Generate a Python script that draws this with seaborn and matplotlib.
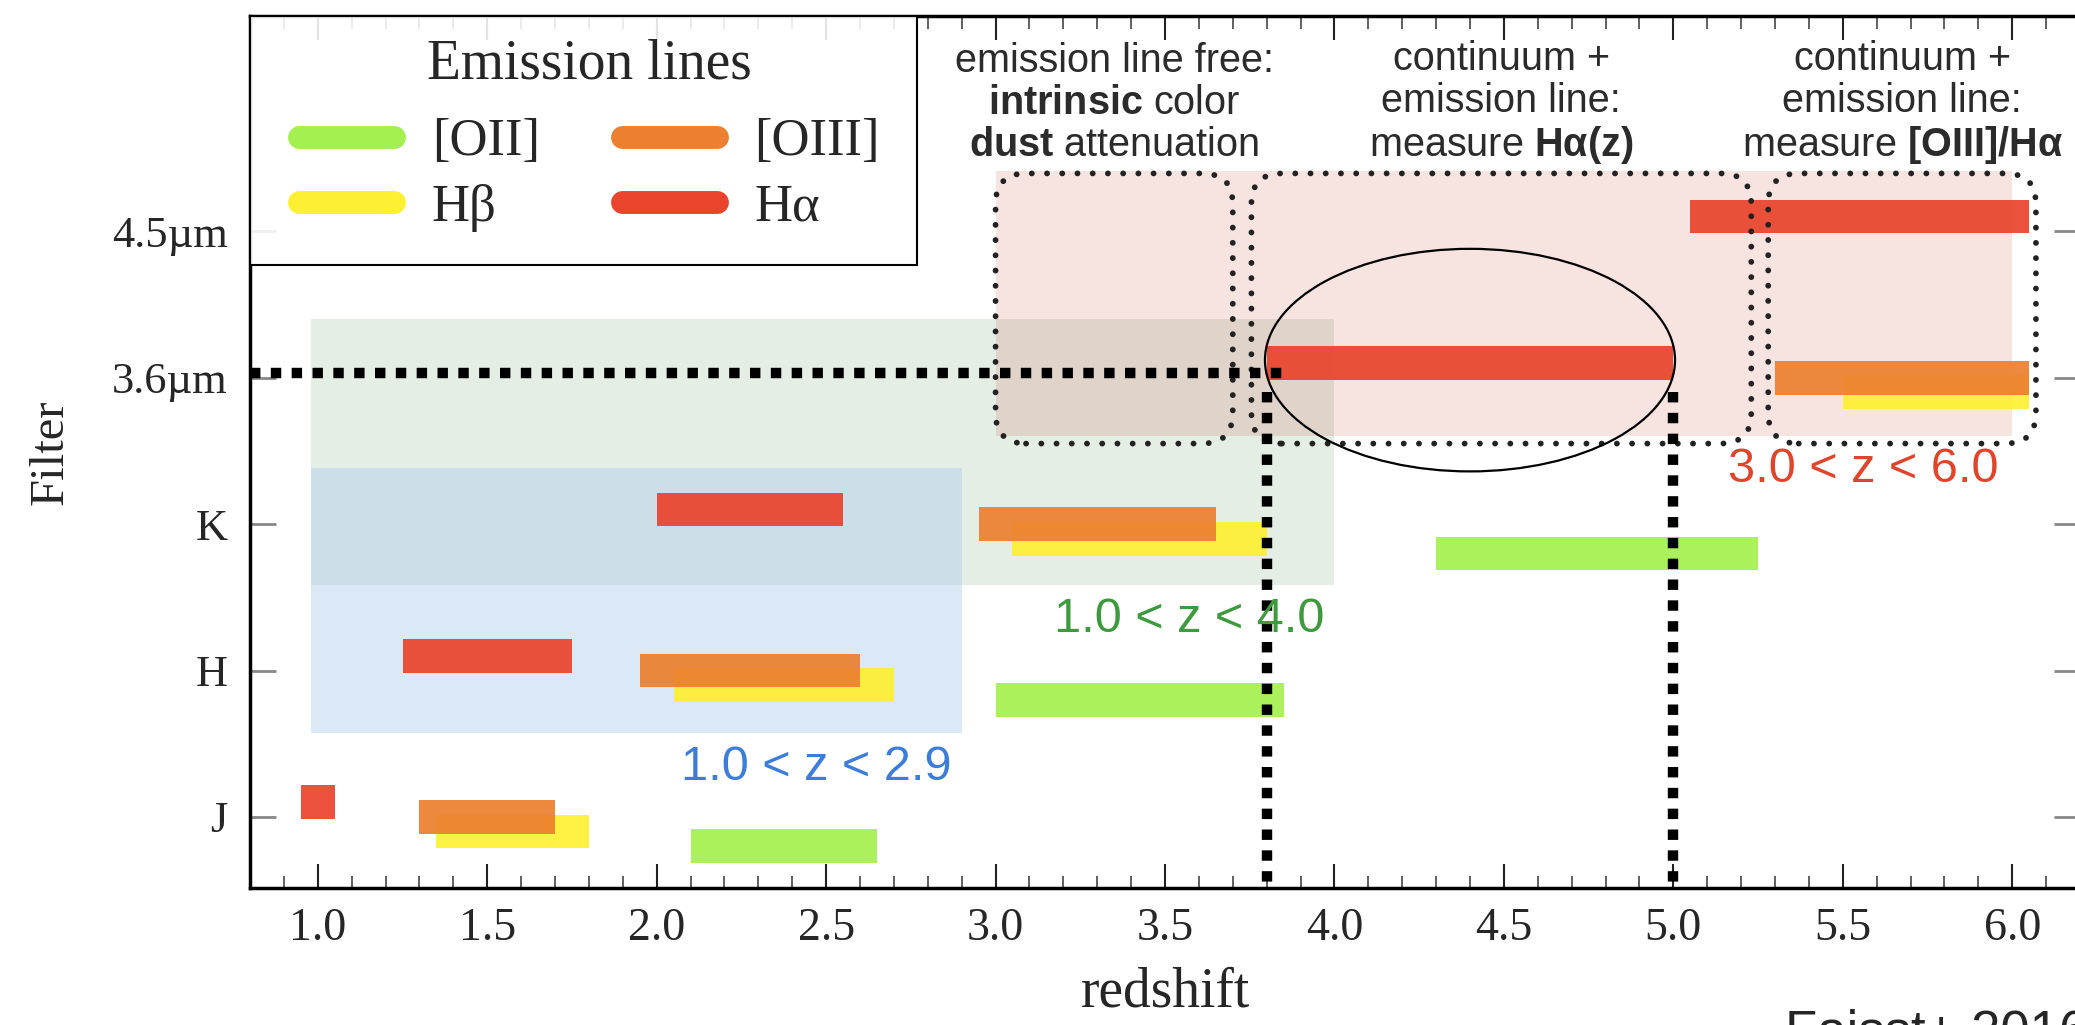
import numpy as np
import pandas as pd
import seaborn as sns
import matplotlib
matplotlib.use("Agg")
import matplotlib.pyplot as plt
from matplotlib.patches import Rectangle, FancyBboxPatch, Ellipse
from matplotlib.lines import Line2D
from matplotlib.ticker import MultipleLocator, NullLocator, FormatStrFormatter

# ---------------------------------------------------------------- data
# photometric filters, bottom to top
filters = ["J", "H", "K", "3.6µm", "4.5µm"]

# emission lines (drawing order) and their colours
line_names = ["[OII]", "Hβ", "[OIII]", "Hα"]
line_colors = ["#a4f050", "#fdf032", "#ec8030", "#ea442d"]

# redshift range in which each line falls into each filter (NaN: not covered)
oii_zmin = [2.10, 3.00, 4.30, np.nan, np.nan]
oii_zmax = [2.65, 3.85, 5.25, np.nan, np.nan]
hb_zmin = [1.35, 2.05, 3.05, 5.50, np.nan]
hb_zmax = [1.80, 2.70, 3.80, 6.05, np.nan]
oiii_zmin = [1.30, 1.95, 2.95, 5.30, np.nan]
oiii_zmax = [1.70, 2.60, 3.65, 6.05, np.nan]
ha_zmin = [0.95, 1.25, 2.00, 3.80, 5.05]
ha_zmax = [1.05, 1.75, 2.55, 5.00, 6.05]

# redshift selection windows
window_labels = ["1.0 < z < 4.0", "1.0 < z < 2.9", "3.0 < z < 6.0"]
window_zmin = [0.98, 0.98, 3.00]
window_zmax = [4.00, 2.90, 6.00]

# Spitzer colour regimes
regime_zmin = [3.00, 3.755, 5.28]
regime_zmax = [3.70, 5.23, 6.07]
regime_texts = [
    "emission line free:\n$\\bf{intrinsic}$ color\n$\\bf{dust}$ attenuation",
    "continuum +\nemission line:\nmeasure $\\bf{Hα(z)}$",
    "continuum +\nemission line:\nmeasure $\\bf{[OIII]/Hα}$",
]

# Hα in 3.6µm redshift interval
ha_irac_zmin, ha_irac_zmax = 3.8, 5.0

# ---------------------------------------------------------------- table
rows = []
for name, zlo, zhi in zip(line_names,
                          [oii_zmin, hb_zmin, oiii_zmin, ha_zmin],
                          [oii_zmax, hb_zmax, oiii_zmax, ha_zmax]):
    for i, f in enumerate(filters):
        rows.append({"line": name, "filter": f, "fidx": i,
                     "zmin": zlo[i], "zmax": zhi[i]})
df = pd.DataFrame(rows).dropna()

# ---------------------------------------------------------------- style
sns.set_theme(style="ticks")
plt.rcParams["font.family"] = ["Liberation Serif", "DejaVu Serif"]
plt.rcParams["mathtext.fontset"] = "custom"
plt.rcParams["mathtext.rm"] = "Liberation Sans"
plt.rcParams["mathtext.bf"] = "Liberation Sans:bold"

W, H = 2075, 1025
fig = plt.figure(figsize=(W / 100, H / 100), dpi=100)
ax = fig.add_axes([250 / W, 1 - 888 / H, (2080 - 250) / W, (888 - 16) / H])
ax.set_xlim(0.8, 6.2)
ax.set_ylim(-0.485, 5.47)

# shaded selection windows (green, blue, red)
win_colors = [((82 / 255, 142 / 255, 82 / 255), 0.15),
              ((170 / 255, 204 / 255, 238 / 255), 0.42),
              ((202 / 255, 68 / 255, 48 / 255), 0.15)]
win_y = [(1.586, 3.40), (0.572, 2.386), (2.60, 4.41)]
win_text_pos = [(3.57, 1.35), (2.47, 0.34), (5.56, 2.37)]
win_text_col = ["#3d9a3d", "#3b7dd8", "#e0452c"]
for k in range(3):
    (c, a) = win_colors[k]
    y0, y1 = win_y[k]
    ax.add_patch(Rectangle((window_zmin[k], y0), window_zmax[k] - window_zmin[k],
                           y1 - y0, facecolor=c, alpha=a, lw=0, zorder=0.5))
    ax.text(*win_text_pos[k], window_labels[k], color=win_text_col[k],
            family="Liberation Sans", fontsize=35, ha="center", va="center",
            zorder=5)

# emission line bars
offsets = dict(zip(line_names, [-0.2, -0.1, 0.0, 0.1]))
colors = dict(zip(line_names, line_colors))
for name in line_names:
    sub = df[df["line"] == name]
    ax.barh(sub["fidx"] + offsets[name], sub["zmax"] - sub["zmin"],
            left=sub["zmin"], height=0.23, color=colors[name], alpha=0.93,
            lw=0, zorder=2)

# dotted rounded boxes for the three colour regimes
for k in range(3):
    box = FancyBboxPatch((regime_zmin[k], 2.55), regime_zmax[k] - regime_zmin[k],
                         4.395 - 2.55,
                         boxstyle="round,pad=0,rounding_size=0.09",
                         mutation_aspect=2.32, fill=False, ec="#222222", lw=4.2,
                         linestyle=(0, (0.01, 2.6)), capstyle="round", zorder=3)
    ax.add_patch(box)
    ax.text((regime_zmin[k] + regime_zmax[k]) / 2, 4.875,
            regime_texts[k], family="Liberation Sans", fontsize=28.5,
            color="#2b2b2b", ha="center", va="center", linespacing=1.13,
            zorder=5)

# guide lines marking Hα inside 3.6µm
dash = dict(color="black", lw=7.5, linestyle=(0, (1, 1)),
            dash_capstyle="butt", zorder=4, clip_on=False)
ax.plot([0.8, 3.86], [3.03, 3.03], **dash)
ax.plot([ha_irac_zmin, ha_irac_zmin], [2.9, -0.485], **dash)
ax.plot([ha_irac_zmax, ha_irac_zmax], [2.9, -0.485], **dash)
ax.add_patch(Ellipse(((ha_irac_zmin + ha_irac_zmax) / 2, 3.12), 1.21, 1.52,
                     fill=False, ec="black", lw=1.6, zorder=4))

# axes decoration
ax.set_yticks(range(len(filters)))
ax.set_yticklabels(filters)
ax.xaxis.set_major_locator(MultipleLocator(0.5))
ax.xaxis.set_minor_locator(MultipleLocator(0.1))
ax.xaxis.set_major_formatter(FormatStrFormatter("%.1f"))
ax.yaxis.set_minor_locator(NullLocator())
ax.tick_params(axis="x", which="major", direction="in", length=17, width=1.5,
               top=True, bottom=True, labelsize=33, pad=14, color="#222222")
ax.tick_params(axis="x", which="minor", direction="in", length=9, width=1.2,
               top=True, bottom=True, color="#444444")
ax.tick_params(axis="y", which="major", direction="in", length=19, width=2,
               left=True, right=True, labelsize=32, pad=16, color="#888888")
for s in ax.spines.values():
    s.set_linewidth(2.5)
    s.set_color("black")
ax.set_xlabel("redshift", fontsize=40, labelpad=12)
ax.set_ylabel("Filter", fontsize=35, labelpad=28)

# legend: square frame in the upper-left corner, entries in two columns
ax.add_patch(Rectangle((0, 0.715), 0.3645, 0.285, transform=ax.transAxes,
                       facecolor="white", alpha=0.88, lw=0, zorder=5.5))
ax.add_patch(Rectangle((0, 0.715), 0.3645, 0.285, transform=ax.transAxes,
                       fill=False, edgecolor="black", lw=1.5, zorder=5.6))
handles = [Line2D([], [], color=c, lw=16.5, solid_capstyle="round")
           for c in line_colors]
leg = ax.legend(handles, line_names, ncol=2, loc="upper left",
                bbox_to_anchor=(0.0036, 1.0227), borderaxespad=0,
                frameon=False, title="Emission lines", fontsize=38,
                title_fontsize=40, handlelength=1.8, handletextpad=0.72,
                columnspacing=1.55, labelspacing=0.33, borderpad=0.8)
leg._legend_box.sep = 20
leg.set_zorder(6)

fig.text(1785 / W, 1 - 1047 / H, "Faisst+ 2016", family="Liberation Sans",
         fontsize=38, va="baseline", ha="left")

fig.savefig("out.png", dpi=100)
